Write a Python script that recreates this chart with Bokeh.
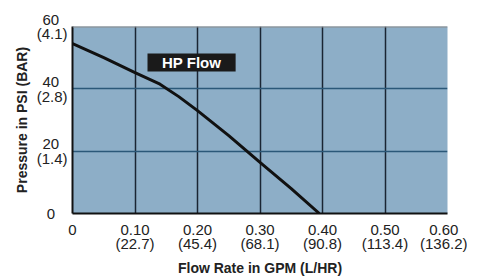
from bokeh.plotting import figure
from bokeh.models import Range1d, FixedTicker, Label, BoxAnnotation, Span
from bokeh.embed import file_html
from bokeh.resources import INLINE

flow_gpm = [0.0, 0.05, 0.10, 0.14, 0.17, 0.20, 0.25, 0.30, 0.35, 0.395]
pressure_psi = [54.5, 50.0, 45.2, 41.5, 37.5, 33.0, 25.0, 16.4, 8.0, 0.0]

x_ticks = [0, 0.1, 0.2, 0.3, 0.4, 0.5, 0.6]
x_tick_labels = ["0", "0.10\n(22.7)", "0.20\n(45.4)", "0.30\n(68.1)", "0.40\n(90.8)", "0.50\n(113.4)", "0.60\n(136.2)"]
y_ticks = [0, 20, 40, 60]
y_tick_labels = ["0", "20\n(1.4)", "40\n(2.8)", "60\n(4.1)"]

series_label = "HP Flow"

NB = "\u00a0"
def center_pad(label):
    # pad each line with non-breaking spaces so right-aligned lines look centred
    lines = label.split("\n")
    if len(lines) == 1:
        return lines[0] + NB * 3
    return "\n".join([lines[0] + NB * 2, lines[1]])

p = figure(frame_width=375, frame_height=187, output_backend="svg", toolbar_location=None,
           x_range=Range1d(0, 0.6), y_range=Range1d(0, 60),
           min_border_left=72, min_border_right=20, min_border_top=26, min_border_bottom=50)
p.background_fill_color = "#8daec7"
p.border_fill_color = "white"
p.outline_line_color = None

p.xaxis.ticker = FixedTicker(ticks=x_ticks)
p.yaxis.ticker = FixedTicker(ticks=y_ticks)
p.xaxis.major_label_overrides = {t: l for t, l in zip(x_ticks, x_tick_labels)}
p.yaxis.major_label_overrides = {t: center_pad(l) for t, l in zip(y_ticks, y_tick_labels)}

for ax in (p.xaxis, p.yaxis):
    ax.major_tick_line_color = None
    ax.minor_tick_line_color = None
    ax.major_tick_out = 0
    ax.major_tick_in = 0
    ax.axis_line_color = "#111111"
    ax.axis_line_width = 2
    ax.major_label_text_font = "Liberation Sans"
    ax.major_label_text_font_size = "15px"
    ax.major_label_text_line_height = 0.88
    ax.major_label_text_color = "#222222"
    ax.axis_label_text_font = "Liberation Sans"
    ax.axis_label_text_font_style = "bold"
    ax.axis_label_text_font_size = "14px"
    ax.axis_label_text_color = "#222222"

p.xaxis.axis_label = "Flow Rate in GPM (L/HR)"
p.yaxis.axis_label = "Pressure in PSI (BAR)"
p.xaxis.major_label_standoff = 7
p.yaxis.major_label_standoff = 5
p.xaxis.axis_label_standoff = 5
p.yaxis.axis_label_standoff = 4

p.xgrid.ticker = FixedTicker(ticks=[0.1, 0.2, 0.3, 0.4, 0.5])
p.ygrid.ticker = FixedTicker(ticks=[20, 40])
p.xgrid.grid_line_color = "#1a2533"
p.xgrid.grid_line_width = 1.5
p.ygrid.grid_line_color = "#2b5878"
p.ygrid.grid_line_width = 1.5

p.add_layout(Span(location=60, dimension="width", line_color="#8a8a8a", line_width=2))

p.line(flow_gpm, pressure_psi, line_color="#111111", line_width=3)

p.add_layout(BoxAnnotation(left=0.12, right=0.261, bottom=45.6, top=51.3,
                           fill_color="#1a1a1a", fill_alpha=1, line_color=None))
p.add_layout(Label(x=0.1905, y=48.45, text=series_label, text_align="center",
                   text_baseline="middle", text_color="white", text_font="Liberation Sans",
                   text_font_style="bold", text_font_size="15px"))

open("out.html", "w").write(file_html(p, INLINE))
